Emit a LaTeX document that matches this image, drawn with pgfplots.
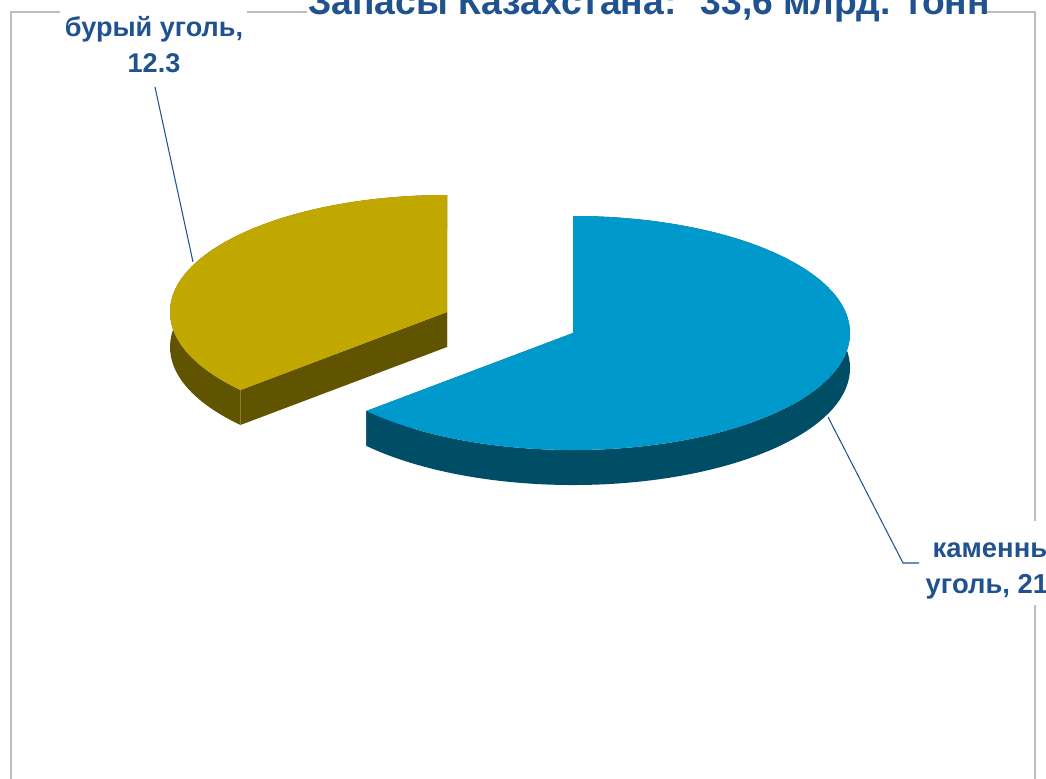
\documentclass[border=0pt]{standalone}
\usepackage{fontspec}
\setmainfont{Liberation Sans}
\usepackage{pgfplots}
\usepackage{pgfplotstable}
\pgfplotsset{compat=1.18}

\definecolor{titleblue}{RGB}{31,82,142}
\definecolor{browntop}{RGB}{192,168,0}
\definecolor{brownside}{RGB}{97,84,0}
\definecolor{hardtop}{RGB}{0,153,204}
\definecolor{hardside}{RGB}{0,77,102}
\definecolor{framegray}{RGB}{190,190,190}

% data: coal reserves, bn t
\pgfplotstableread{
kind value
brown 12.3
hard 21.3
}\coaldata
\pgfplotstablegetelem{0}{value}\of\coaldata
\let\vbrown\pgfplotsretval
\pgfplotstablegetelem{1}{value}\of\coaldata
\let\vhard\pgfplotsretval
\pgfmathsetmacro{\total}{\vbrown+\vhard}
\pgfmathsetmacro{\brownend}{90+360*\vbrown/\total}
\pgfmathsetmacro{\hardstart}{90-360*\vhard/\total}

% pie geometry (cm): ellipse radii and thickness
\def\rx{2.77}
\def\ry{1.17}
\def\dep{0.35}

% #1 cx, #2 cy, #3 start angle, #4 end angle, #5 top colour, #6 side colour
\newcommand{\pieslice}[6]{%
  % outer side band
  \fill[#6] (axis cs:#1,#2) ++(#3:\rx cm and \ry cm)
    arc[start angle=#3,end angle=#4,x radius=\rx cm,y radius=\ry cm]
    -- ++(0cm,-\dep cm)
    arc[start angle=#4,end angle=#3,x radius=\rx cm,y radius=\ry cm] -- cycle;
  % radial faces
  \fill[#6] (axis cs:#1,#2) ++(0cm,-\dep cm) -- ++(#3:\rx cm and \ry cm)
    -- ++(0cm,\dep cm) -- (axis cs:#1,#2) -- cycle;
  \fill[#6] (axis cs:#1,#2) ++(0cm,-\dep cm) -- ++(#4:\rx cm and \ry cm)
    -- ++(0cm,\dep cm) -- (axis cs:#1,#2) -- cycle;
  % top face
  \fill[#5] (axis cs:#1,#2) -- ++(#3:\rx cm and \ry cm)
    arc[start angle=#3,end angle=#4,x radius=\rx cm,y radius=\ry cm] -- cycle;
}

\begin{document}
\begin{tikzpicture}
\begin{axis}[
  x=1cm, y=1cm,
  xmin=0, xmax=10.46, ymin=0, ymax=7.78,
  enlargelimits=false,
  hide axis, clip=false,
]
% chart area frame (broken where the title and labels sit)
\draw[framegray, line width=0.35pt]
  (axis cs:0.11,-0.1) -- (axis cs:0.11,7.66) -- (axis cs:0.60,7.66);
\draw[framegray, line width=0.35pt] (axis cs:2.47,7.66) -- (axis cs:3.07,7.66);
\draw[framegray, line width=0.35pt]
  (axis cs:9.87,7.66) -- (axis cs:10.35,7.66) -- (axis cs:10.35,2.57);
\draw[framegray, line width=0.35pt] (axis cs:10.35,1.73) -- (axis cs:10.35,-0.1);

% slices: бурый уголь (exploded up-left), каменный уголь
\pieslice{4.47}{4.66}{90}{\brownend}{browntop}{brownside}
\pieslice{5.73}{4.45}{\hardstart}{90}{hardtop}{hardside}

% leader lines
\draw[titleblue, line width=0.3pt] (axis cs:1.55,6.91) -- (axis cs:1.93,5.16);
\draw[titleblue, line width=0.3pt]
  (axis cs:8.28,3.61) -- (axis cs:9.03,2.15) -- (axis cs:9.19,2.15);

% title
\node[anchor=base, inner sep=0pt, text=titleblue,
      font=\fontsize{10.6}{12}\selectfont\bfseries]
  at (axis cs:6.49,7.63) {Запасы Казахстана: ~33,6 млрд. тонн};

% data labels
\node[anchor=base, inner sep=0pt, text=titleblue,
      font=\fontsize{7.7}{9}\selectfont\bfseries]
  at (axis cs:1.54,7.413) {бурый уголь,};
\node[anchor=base, inner sep=0pt, text=titleblue,
      font=\fontsize{7.7}{9}\selectfont\bfseries]
  at (axis cs:1.54,7.053) {\vbrown};
\node[anchor=base west, inner sep=0pt, text=titleblue,
      font=\fontsize{7.8}{9}\selectfont\bfseries]
  at (axis cs:9.32,2.21) {каменный};
\node[anchor=base west, inner sep=0pt, text=titleblue,
      font=\fontsize{7.8}{9}\selectfont\bfseries]
  at (axis cs:9.25,1.85) {уголь, \vhard};
\end{axis}
\pgfresetboundingbox
\path[use as bounding box] (current axis.south west) rectangle (current axis.north east);
\end{tikzpicture}
\end{document}
